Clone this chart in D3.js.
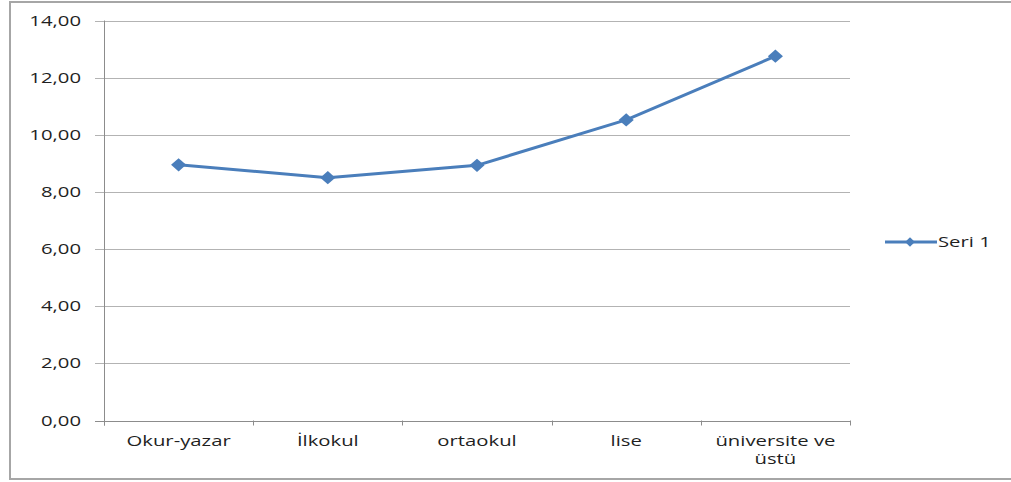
<!DOCTYPE html>
<html>
<head>
<meta charset="utf-8">
<script src="https://cdn.jsdelivr.net/npm/d3@7"></script>
<style>
  body { margin: 0; background: #fff; }
  text { font-family: "Open Sans", sans-serif; fill: #1f1f1f; }
</style>
</head>
<body>
<div id="chart"></div>
<script>
const categories = ["Okur-yazar", "İlkokul", "ortaokul", "lise", "üniversite ve\nüstü"];
const values = [8.95, 8.50, 8.93, 10.52, 12.75];
const yTicks = [0, 2, 4, 6, 8, 10, 12, 14];
const seriesName = "Seri 1";

const W = 1011, H = 482;
const plot = { left: 104, right: 850, top: 20.5, bottom: 420.5 };
const stretch = 1.45; // text in the picture is wide
const blue = "#4a7ebb";

const svg = d3.select("#chart").append("svg")
  .attr("width", W).attr("height", H);

svg.append("rect")
  .attr("x", 10).attr("y", 2)
  .attr("width", W + 10).attr("height", 477)
  .attr("fill", "none").attr("stroke", "#a6a6a6").attr("stroke-width", 2);

const x = d3.scaleBand().domain(categories).range([plot.left, plot.right]);
const y = d3.scaleLinear().domain([0, 14]).range([plot.bottom, plot.top]);
const fmt = d => d3.format(".2f")(d).replace(".", ",");

// gridlines + y labels
svg.append("g").selectAll("line")
  .data(yTicks.filter(d => d > 0))
  .join("line")
  .attr("x1", plot.left - 9).attr("x2", plot.right)
  .attr("y1", d => Math.round(y(d)) + 0.5).attr("y2", d => Math.round(y(d)) + 0.5)
  .attr("stroke", "#b3b3b3").attr("stroke-width", 1);

svg.append("g").selectAll("text")
  .data(yTicks)
  .join("text")
  .attr("transform", d => `translate(81,${y(d)}) scale(${stretch},1)`)
  .attr("text-anchor", "end")
  .attr("dy", "0.36em")
  .style("font-size", "14px")
  .text(fmt);

// axes
svg.append("line")
  .attr("x1", plot.left + 0.5).attr("x2", plot.left + 0.5)
  .attr("y1", plot.top).attr("y2", plot.bottom + 5)
  .attr("stroke", "#8c8c8c");
svg.append("line")
  .attr("x1", plot.left - 9).attr("x2", plot.right)
  .attr("y1", Math.round(plot.bottom) + 0.5).attr("y2", Math.round(plot.bottom) + 0.5)
  .attr("stroke", "#8c8c8c");

const bounds = categories.map(c => x(c)).concat([plot.right]);
svg.append("g").selectAll("line")
  .data(bounds)
  .join("line")
  .attr("x1", d => Math.round(d) + 0.5).attr("x2", d => Math.round(d) + 0.5)
  .attr("y1", plot.bottom).attr("y2", plot.bottom + 5)
  .attr("stroke", "#8c8c8c");

// x labels
const xl = svg.append("g").selectAll("text")
  .data(categories)
  .join("text")
  .attr("transform", d => `translate(${x(d) + x.bandwidth() / 2},446) scale(${stretch},1)`)
  .attr("text-anchor", "middle")
  .style("font-size", "14px");
xl.selectAll("tspan")
  .data(d => d.split("\n"))
  .join("tspan")
  .attr("x", 0)
  .attr("dy", (d, i) => i === 0 ? 0 : 18)
  .text(d => d);

// line
const cx = d => x(d) + x.bandwidth() / 2;
const line = d3.line()
  .x((d, i) => cx(categories[i]))
  .y(d => y(d));

svg.append("path")
  .datum(values)
  .attr("d", line)
  .attr("fill", "none")
  .attr("stroke", blue)
  .attr("stroke-width", 3)
  .attr("stroke-linejoin", "round");

const diamond = d3.symbol().type(d3.symbolDiamond2).size(120);
svg.append("g").selectAll("path")
  .data(values)
  .join("path")
  .attr("d", diamond)
  .attr("transform", (d, i) => `translate(${cx(categories[i])},${y(d)}) scale(1.1,0.97)`)
  .attr("fill", blue);

// legend
const lg = svg.append("g").attr("transform", "translate(885,242)");
lg.append("line").attr("x1", 0).attr("x2", 52).attr("y1", 0).attr("y2", 0)
  .attr("stroke", blue).attr("stroke-width", 3);
lg.append("path").attr("d", d3.symbol().type(d3.symbolDiamond2).size(60))
  .attr("transform", "translate(25,0)").attr("fill", blue);
lg.append("text")
  .attr("transform", `translate(53,0) scale(${stretch},1)`)
  .attr("dy", "0.36em")
  .style("font-size", "14px")
  .text(seriesName);
</script>
</body>
</html>
